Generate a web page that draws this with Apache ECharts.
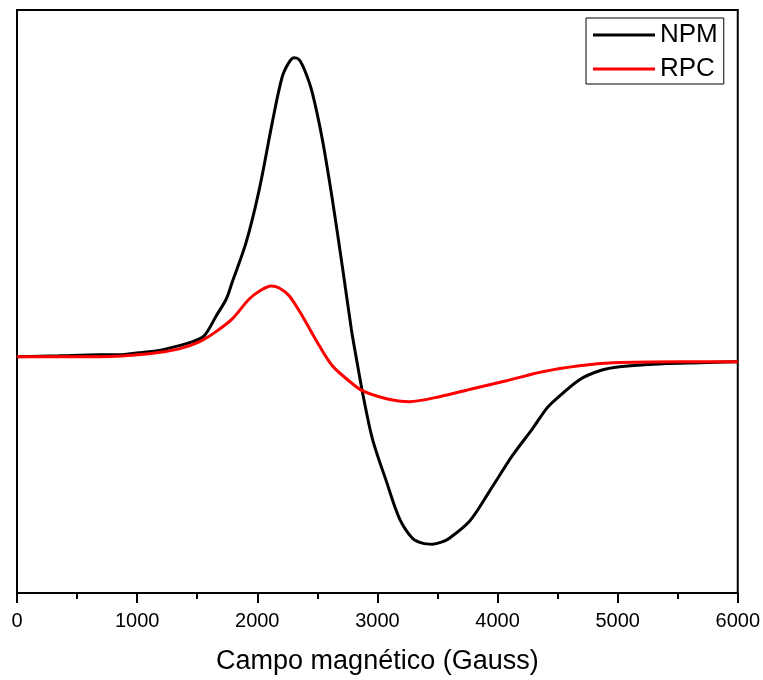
<!DOCTYPE html>
<html>
<head>
<meta charset="utf-8">
<script src="https://cdn.jsdelivr.net/npm/echarts@6/dist/echarts.min.js"></script>
<style>
html,body{margin:0;padding:0;background:#fff;}
#c{width:763px;height:680px;}
</style>
</head>
<body>
<div id="c"></div>
<script>
// Magnetic field (Gauss) and signal intensity (arbitrary units)
var npmX = [0, 350, 683, 850, 1017, 1100, 1242, 1458, 1558, 1658, 1742, 1792, 1908, 2017, 2125, 2208, 2267, 2308, 2350, 2400, 2458, 2542, 2625, 2708, 2783, 2833, 2875, 2958, 3075, 3183, 3292, 3375, 3458, 3533, 3600, 3767, 3933, 4125, 4292, 4408, 4492, 4683, 4850, 5017, 5375, 5683, 6000];
var npmY = [0, 1, 2, 2, 4, 5, 8, 15, 21, 41, 58, 75, 115, 168, 235, 281, 296, 300, 298, 286, 265, 218, 158, 91, 28, -7, -35, -82, -125, -162, -182, -187, -188, -186, -182, -165, -135, -99, -72, -52, -42, -23, -14, -10, -7, -6, -5];
var rpcX = [0, 350, 683, 1100, 1350, 1517, 1642, 1792, 1933, 2033, 2117, 2183, 2267, 2375, 2517, 2625, 2742, 2875, 3075, 3267, 3517, 3792, 4075, 4375, 4683, 4958, 5517, 6000];
var rpcY = [0, 0, 0, 3, 8, 15, 24, 38, 58, 67, 71, 69, 61, 41, 11, -9, -22, -34, -42, -45, -40, -32, -24, -15, -9, -6, -5, -5];
var seriesNames = ['NPM', 'RPC'];
var xTicks = [0, 1000, 2000, 3000, 4000, 5000, 6000];
var xTitle = 'Campo magnético (Gauss)';

function pairs(xs, ys) { return xs.map(function (x, i) { return [x, ys[i]]; }); }

var chart = echarts.init(document.getElementById('c'));
var font = '"Liberation Sans", Arial, sans-serif';
chart.setOption({
  animation: false,
  backgroundColor: '#fff',
  grid: { left: 17, right: 25, top: 10, bottom: 85, show: true, borderColor: '#000', borderWidth: 2, backgroundColor: 'transparent' },
  legend: {
    left: 586, top: 18, orient: 'vertical',
    data: seriesNames,
    icon: 'rect',
    borderColor: '#000', borderWidth: 1, borderRadius: 0,
    padding: [4, 6, 2, 7],
    itemWidth: 62, itemHeight: 3, itemGap: 8,
    textStyle: { fontFamily: font, fontSize: 26, color: '#000' }
  },
  xAxis: {
    type: 'value', min: xTicks[0], max: xTicks[xTicks.length - 1], interval: 1000,
    axisLine: { show: true, onZero: false, lineStyle: { color: '#000', width: 2 } },
    axisTick: { show: true, length: 10, lineStyle: { color: '#000', width: 2 } },
    minorTick: { show: true, splitNumber: 2, length: 6, lineStyle: { color: '#000', width: 2 } },
    splitLine: { show: false },
    axisLabel: { fontFamily: font, fontSize: 20, color: '#000', margin: 18, formatter: function (v) { return String(v); } },
    name: xTitle, nameLocation: 'middle', nameGap: 55,
    nameTextStyle: { fontFamily: font, fontSize: 27, color: '#000' }
  },
  yAxis: {
    type: 'value', min: -237, max: 348,
    axisLine: { show: true, onZero: false, lineStyle: { color: '#000', width: 2 } },
    axisTick: { show: false }, axisLabel: { show: false }, splitLine: { show: false }
  },
  series: [
    { name: seriesNames[0], type: 'line', data: pairs(npmX, npmY), symbol: 'none', smooth: 0.3,
      lineStyle: { color: '#000', width: 3 }, itemStyle: { color: '#000' } },
    { name: seriesNames[1], type: 'line', data: pairs(rpcX, rpcY), symbol: 'none', smooth: 0.3,
      lineStyle: { color: '#ff0000', width: 3 }, itemStyle: { color: '#ff0000' } }
  ]
});
</script>
</body>
</html>
